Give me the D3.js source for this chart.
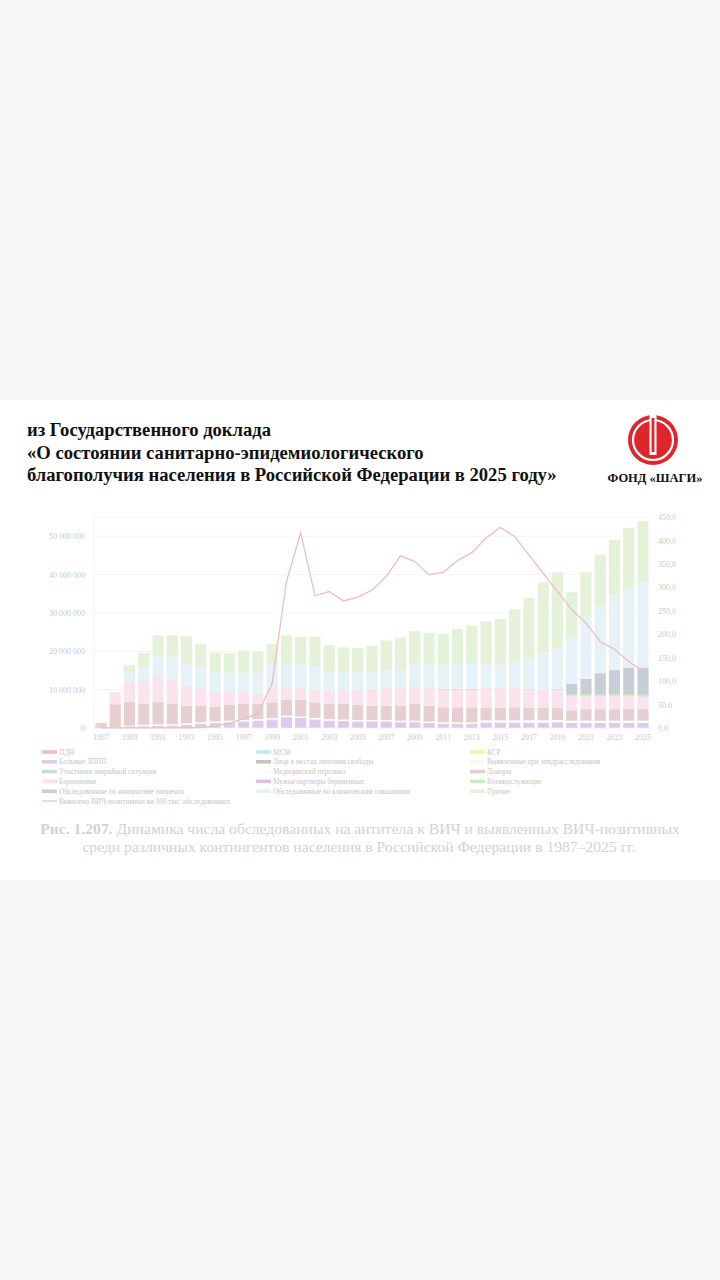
<!DOCTYPE html>
<html>
<head>
<meta charset="utf-8">
<script src="https://cdn.jsdelivr.net/npm/d3@7"></script>
<style>
  html, body { margin: 0; padding: 0; background: #f7f7f7; }
  svg { display: block; }
</style>
</head>
<body>
<div id="chart"></div>
<script>
'use strict';

// годы
var years = [1987, 1988, 1989, 1990, 1991, 1992, 1993, 1994, 1995, 1996,
  1997, 1998, 1999, 2000, 2001, 2002, 2003, 2004, 2005, 2006,
  2007, 2008, 2009, 2010, 2011, 2012, 2013, 2014, 2015, 2016,
  2017, 2018, 2019, 2020, 2021, 2022, 2023, 2024, 2025];

// обследовано, млн человек (по контингентам)
var pdn = [0.01, 0.03, 0.05, 0.1, 0.1, 0.1, 0.1, 0.1, 0.1, 0.1,
  0.1, 0.1, 0.1, 0.1, 0.1, 0.1, 0.1, 0.1, 0.1, 0.1,
  0.1, 0.1, 0.1, 0.1, 0.1, 0.1, 0.1, 0.1, 0.1, 0.1,
  0.1, 0.1, 0.1, 0.1, 0.1, 0.1, 0.1, 0.1, 0.1];
var msm = [0, 0, 0.005, 0.005, 0.005, 0.005, 0.005, 0.005, 0.005, 0.005,
  0.005, 0.005, 0.005, 0.005, 0.005, 0.005, 0.005, 0.005, 0.005, 0.005,
  0.005, 0.005, 0.005, 0.005, 0.005, 0.005, 0.005, 0.005, 0.005, 0.005,
  0.005, 0.005, 0.005, 0.005, 0.005, 0.005, 0.005, 0.005, 0.005];
var ksr = [0, 0.01, 0.02, 0.03, 0.03, 0.03, 0.03, 0.03, 0.03, 0.03,
  0.03, 0.03, 0.03, 0.03, 0.03, 0.03, 0.03, 0.03, 0.03, 0.03,
  0.03, 0.03, 0.03, 0.03, 0.03, 0.03, 0.03, 0.03, 0.03, 0.03,
  0.03, 0.03, 0.03, 0.03, 0.03, 0.03, 0.03, 0.03, 0.03];
var zppp = [0.02, 0.1, 0.25, 0.15, 0.25, 0.31, 0.51, 0.81, 1.01, 1.21,
  1.41, 1.61, 1.91, 2.51, 2.31, 1.91, 1.61, 1.51, 1.41, 1.41,
  1.41, 1.21, 1.21, 1.01, 0.81, 0.81, 0.81, 1.11, 1.11, 1.11,
  1.11, 1.11, 1.21, 1.01, 1.01, 1.01, 1.01, 1.01, 1.01];
var mls = [0, 0.05, 0.1, 0.15, 0.15, 0.15, 0.15, 0.15, 0.15, 0.15,
  0.15, 0.15, 0.15, 0.15, 0.15, 0.15, 0.15, 0.15, 0.15, 0.15,
  0.15, 0.15, 0.15, 0.15, 0.15, 0.15, 0.15, 0.15, 0.15, 0.15,
  0.15, 0.15, 0.15, 0.15, 0.15, 0.15, 0.15, 0.15, 0.15];
var epid = [0, 0.03, 0.05, 0.1, 0.1, 0.1, 0.1, 0.1, 0.1, 0.1,
  0.1, 0.1, 0.1, 0.1, 0.1, 0.1, 0.1, 0.1, 0.1, 0.1,
  0.1, 0.1, 0.1, 0.1, 0.1, 0.1, 0.1, 0.1, 0.1, 0.1,
  0.1, 0.1, 0.1, 0.1, 0.1, 0.1, 0.1, 0.1, 0.1];
var avar = [0, 0, 0.005, 0.005, 0.005, 0.005, 0.005, 0.005, 0.005, 0.005,
  0.005, 0.005, 0.005, 0.005, 0.005, 0.005, 0.005, 0.005, 0.005, 0.005,
  0.005, 0.005, 0.005, 0.005, 0.005, 0.005, 0.005, 0.005, 0.005, 0.005,
  0.005, 0.005, 0.005, 0.005, 0.005, 0.005, 0.005, 0.005, 0.005];
var med = [0.02, 0.08, 0.15, 0.3, 0.3, 0.3, 0.3, 0.3, 0.3, 0.3,
  0.3, 0.3, 0.3, 0.3, 0.3, 0.3, 0.3, 0.3, 0.3, 0.3,
  0.3, 0.3, 0.3, 0.3, 0.3, 0.3, 0.3, 0.5, 0.5, 0.5,
  0.5, 0.5, 0.5, 0.5, 0.5, 0.5, 0.5, 0.5, 0.5];
var donors = [1.25, 5.9, 6.2, 5.5, 5.8, 5.3, 4.6, 4.3, 3.9, 4.2,
  4.3, 4.0, 4.1, 4.2, 4.4, 4.1, 4.0, 4.1, 3.9, 3.7,
  3.7, 3.9, 4.5, 4.1, 3.9, 3.9, 3.9, 3.3, 3.3, 3.4,
  3.3, 3.3, 3.1, 2.7, 3.0, 3.0, 3.0, 3.0, 3.0];
var pregnant = [0, 3.0, 5.2, 5.9, 6.6, 6.4, 5.1, 4.3, 3.6, 3.1,
  2.8, 2.5, 3.4, 2.7, 2.7, 2.9, 3.3, 3.3, 3.6, 4.0,
  4.3, 4.3, 4.1, 4.6, 4.6, 4.6, 4.6, 4.8, 4.8, 4.7,
  4.6, 4.3, 4.8, 3.7, 3.4, 3.4, 3.4, 3.4, 3.2];
var partners = [0, 0.02, 0.02, 0.02, 0.02, 0.02, 0.02, 0.02, 0.02, 0.02,
  0.02, 0.02, 0.02, 0.05, 0.05, 0.05, 0.05, 0.05, 0.05, 0.05,
  0.05, 0.05, 0.05, 0.1, 0.1, 0.1, 0.1, 0.1, 0.1, 0.1,
  0.1, 0.1, 0.1, 0.1, 0.1, 0.1, 0.1, 0.1, 0.1];
var military = [0, 0.08, 0.08, 0.1, 0.1, 0.1, 0.1, 0.1, 0.1, 0.1,
  0.1, 0.1, 0.1, 0.1, 0.1, 0.1, 0.1, 0.1, 0.1, 0.1,
  0.1, 0.1, 0.1, 0.1, 0.1, 0.1, 0.1, 0.1, 0.1, 0.1,
  0.1, 0.1, 0.1, 0.45, 0.45, 0.45, 0.45, 0.45, 0.45];
var initiative = [0, 0, 0, 0, 0, 0, 0, 0, 0, 0,
  0, 0, 0, 0, 0, 0, 0, 0, 0, 0,
  0, 0, 0, 0, 0, 0, 0, 0, 0, 0,
  0, 0, 0, 2.65, 3.95, 5.45, 6.25, 6.85, 7.15];
var clinical = [0, 0, 2.1, 3.5, 5.2, 5.6, 5.7, 5.6, 5.2, 4.8,
  4.8, 5.2, 6.5, 6.5, 6.1, 6.1, 4.8, 4.8, 4.5, 4.6,
  4.8, 4.9, 6.1, 5.7, 6.1, 6.5, 6.5, 6.2, 6.4, 6.8,
  7.9, 9.8, 10.7, 12.0, 16.2, 17.4, 19.7, 20.6, 21.9];
var other = [0, 0.1, 2.1, 3.7, 5.5, 5.7, 7.2, 6.1, 5.1, 5.4,
  6.1, 5.8, 5.2, 7.4, 7.4, 8.0, 7.0, 6.5, 6.6, 6.9,
  7.8, 8.4, 8.5, 8.5, 8.2, 9.1, 10.0, 11.3, 11.7, 13.8,
  15.9, 18.4, 19.7, 11.9, 11.6, 13.5, 14.2, 15.9, 16.2];

// выявлено ВИЧ-позитивных на 100 тыс. обследованных
var rate = [0.1, 0.2, 0.4, 0.4, 0.3, 0.3, 0.5, 0.8, 4, 10,
  20, 30, 95, 312, 416, 282, 291, 271, 279, 294,
  323, 367, 355, 327, 332, 357, 374, 405, 428, 408,
  369, 330, 291, 253, 224, 184, 168, 142, 121];

var leftTicks = [0, 10, 20, 30, 40, 50];
var rightTicks = [0, 50, 100, 150, 200, 250, 300, 350, 400, 450];

var series = [
  { key: 'pdn', label: 'ПДН', values: pdn },
  { key: 'msm', label: 'МСМ', values: msm },
  { key: 'ksr', label: 'КСР', values: ksr },
  { key: 'zppp', label: 'Больные ЗППП', values: zppp },
  { key: 'mls', label: 'Лица в местах лишения свободы', values: mls },
  { key: 'epid', label: 'Выявленные при эпидрасследовании', values: epid },
  { key: 'avar', label: 'Участники аварийной ситуации', values: avar },
  { key: 'med', label: 'Медицинский персонал', values: med },
  { key: 'donors', label: 'Доноры', values: donors },
  { key: 'pregnant', label: 'Беременные', values: pregnant },
  { key: 'partners', label: 'Мужья/партнеры беременных', values: partners },
  { key: 'military', label: 'Военнослужащие', values: military },
  { key: 'initiative', label: 'Обследованные по инициативе пациента', values: initiative },
  { key: 'clinical', label: 'Обследованные по клиническим показаниям', values: clinical },
  { key: 'other', label: 'Прочие', values: other }
];
var lineLabel = 'Выявлено ВИЧ-позитивных на 100 тыс. обследованных';

var colors = {
  pdn: '#f2bcbc', msm: '#bdeef6', ksr: '#f6f1ad', zppp: '#dccbee',
  mls: '#c4c4c4', epid: '#fafbe2', avar: '#c6dcd8', med: '#fcfcfc',
  donors: '#e6cfd1', pregnant: '#fbe3ee', partners: '#e6bde0',
  military: '#c6ecc2', initiative: '#c9cdd8', clinical: '#e6f2f8',
  other: '#e5f2da'
};
var lineColor = '#eabfbf';

var W = 720, H = 1280;
var margin = { top: 517, right: 70, bottom: 552, left: 94 };
var svg = d3.select('#chart').append('svg')
  .attr('width', W).attr('height', H);

// фон страницы
svg.append('rect').attr('x', 0).attr('y', 0).attr('width', W).attr('height', H)
  .attr('fill', '#f7f7f7');
svg.append('rect').attr('x', 0).attr('y', 400).attr('width', W).attr('height', 480)
  .attr('fill', '#ffffff');

// шапка
var serif = "'Liberation Serif', 'Times New Roman', serif";
var head = svg.append('g').attr('font-family', serif).attr('font-weight', 'bold')
  .attr('fill', '#111');
var headLines = ['из Государственного доклада',
  '«О состоянии санитарно-эпидемиологического',
  'благополучия населения в Российской Федерации в 2025 году»'];
var headText = head.selectAll('text').data(headLines).enter().append('text')
  .attr('x', 27)
  .attr('y', function( d, i ) { return 436 + i * 22.5; })
  .attr('font-size', 18)
  .text(function( d ) { return d; });
var wHead = headText.nodes()[2].getComputedTextLength();
headText.attr('font-size', 18 * 530 / wHead);

// логотип
var logo = svg.append('g').attr('transform', 'translate(653,440)');
logo.append('circle').attr('r', 25).attr('fill', '#e0242b');
logo.append('circle').attr('r', 20).attr('fill', 'none')
  .attr('stroke', '#fff').attr('stroke-width', 2.2);
logo.append('rect').attr('x', -3.5).attr('y', -25).attr('width', 7).attr('height', 40)
  .attr('fill', '#fff');
logo.append('rect').attr('x', -1.4).attr('y', -22).attr('width', 2.8).attr('height', 34)
  .attr('fill', '#e0242b');
svg.append('text').attr('x', 655).attr('y', 482)
  .attr('text-anchor', 'middle')
  .attr('font-family', serif).attr('font-weight', 'bold')
  .attr('font-size', 12.5).attr('fill', '#111')
  .text('ФОНД «ШАГИ»');

// данные для стека
var table = years.map(function( y, i ) {
  var row = { year: y };
  series.forEach(function( s ) { row[s.key] = s.values[i]; });
  return row;
});
var stacked = d3.stack().keys(series.map(function( s ) { return s.key; }))(table);

var x = d3.scaleBand().domain(years)
  .range([margin.left, W - margin.right])
  .paddingInner(0.22).paddingOuter(0.1);
var y = d3.scaleLinear().domain([0, 55]).range([H - margin.bottom - 0, margin.top]);
var y2 = d3.scaleLinear().domain([0, 450]).range([H - margin.bottom, margin.top]);

var plot = svg.append('g');

// сетка
plot.append('g').selectAll('line')
  .data(leftTicks.concat([55]))
  .enter().append('line')
  .attr('x1', margin.left).attr('x2', W - margin.right)
  .attr('y1', function( d ) { return y(d); })
  .attr('y2', function( d ) { return y(d); })
  .attr('stroke', '#f0f0f0').attr('stroke-width', 0.8);
plot.append('line')
  .attr('x1', margin.left).attr('x2', margin.left)
  .attr('y1', margin.top).attr('y2', H - margin.bottom)
  .attr('stroke', '#f0f0f0').attr('stroke-width', 0.8);

// столбцы
plot.append('g').selectAll('g')
  .data(stacked)
  .enter().append('g')
  .attr('fill', function( d ) { return colors[d.key]; })
  .selectAll('rect')
  .data(function( d ) { return d; })
  .enter().append('rect')
  .attr('x', function( d ) { return x(d.data.year); })
  .attr('width', x.bandwidth())
  .attr('y', function( d ) { return y(d[1]); })
  .attr('height', function( d ) { return Math.max(0, y(d[0]) - y(d[1])); });

// линия
var line = d3.line()
  .x(function( d, i ) { return x(years[i]) + x.bandwidth() / 2; })
  .y(function( d ) { return y2(d); });
plot.append('path').datum(rate)
  .attr('d', line)
  .attr('fill', 'none')
  .attr('stroke', lineColor)
  .attr('stroke-width', 1.3);

// оси
var axisColor = '#c9c9c9';
var fmtLeft = function( d ) {
  return d3.format(',')(d * 1e6).replace(/,/g, ' ');
};
var fmtRight = function( d ) {
  return d3.format('.1f')(d).replace('.', ',');
};

var axL = svg.append('g')
  .attr('transform', 'translate(' + (margin.left - 6) + ',0)')
  .call(d3.axisLeft(y).tickValues(leftTicks).tickFormat(fmtLeft).tickSize(0));
var axR = svg.append('g')
  .attr('transform', 'translate(' + (W - margin.right + 5) + ',0)')
  .call(d3.axisRight(y2).tickValues(rightTicks).tickFormat(fmtRight).tickSize(0));
var axB = svg.append('g')
  .attr('transform', 'translate(0,' + (H - margin.bottom + 3) + ')')
  .call(d3.axisBottom(x)
    .tickValues(years.filter(function( d, i ) { return i % 2 === 0; }))
    .tickSize(0));
[axL, axR, axB].forEach(function( ax ) {
  ax.select('.domain').remove();
  ax.selectAll('text')
    .attr('font-family', serif)
    .attr('font-size', 8)
    .attr('fill', axisColor);
});
axR.selectAll('text').attr('dx', 0);

// легенда
var legendItems = series.map(function( s ) {
  return { label: s.label, color: colors[s.key], type: 'bar' };
});
legendItems.push({ label: lineLabel, color: lineColor, type: 'line' });
var colX = [42, 256, 470];
var legend = svg.append('g').attr('font-family', serif).attr('font-size', 7.2)
  .attr('fill', '#c4c4c4');
var li = legend.selectAll('g').data(legendItems).enter().append('g')
  .attr('transform', function( d, i ) {
    return 'translate(' + colX[i % 3] + ',' + (752 + Math.floor(i / 3) * 9.8) + ')';
  });
li.filter(function( d ) { return d.type === 'bar'; })
  .append('rect')
  .attr('x', 0).attr('y', -1.8).attr('width', 15).attr('height', 3.6)
  .attr('fill', function( d ) { return d.color; });
li.filter(function( d ) { return d.type === 'line'; })
  .append('line')
  .attr('x1', 0).attr('x2', 15).attr('y1', 0).attr('y2', 0)
  .attr('stroke', function( d ) { return d.color; }).attr('stroke-width', 1.2);
li.append('text')
  .attr('x', 17).attr('y', 2.5)
  .text(function( d ) { return d.label; });

// подпись
var cap = svg.append('g').attr('font-family', serif).attr('fill', '#d2d2d2')
  .attr('text-anchor', 'middle');
var c1 = cap.append('text').attr('x', 360).attr('y', 834).attr('font-size', 14);
c1.append('tspan').attr('font-weight', 'bold').text('Рис. 1.207.');
c1.append('tspan').text(' Динамика числа обследованных на антитела к ВИЧ и выявленных ВИЧ-позитивных');
var c2 = cap.append('text').attr('x', 359).attr('y', 852).attr('font-size', 14)
  .text('среди различных контингентов населения в Российской Федерации в 1987–2025 гг.');
var wCap = c1.node().getComputedTextLength();
var capSize = 14 * 640 / wCap;
c1.attr('font-size', capSize);
c2.attr('font-size', capSize);
</script>
</body>
</html>
